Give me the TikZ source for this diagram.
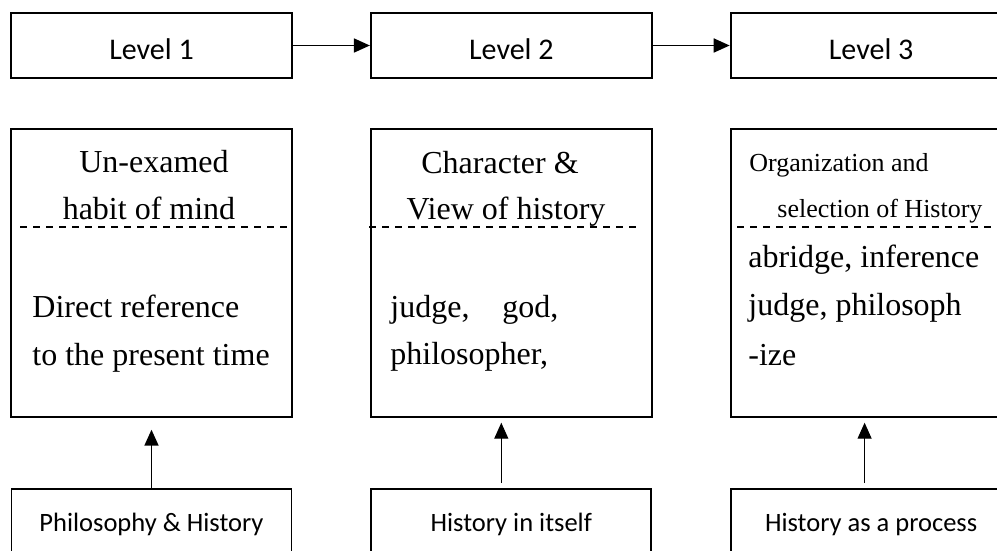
\documentclass[tikz,border=0pt]{standalone}
\usepackage{fontspec}
\setmainfont{Liberation Serif}
\newfontfamily\labelfont{Carlito}
\usetikzlibrary{positioning,arrows.meta}

\begin{document}
\begin{tikzpicture}[
    x=0.5pt, y=-0.5pt,
    >={Triangle[length=8pt,width=7pt]},
    node distance=38.5pt,
    level/.style={draw, line width=0.9pt, minimum width=140.5pt, minimum height=32.5pt, text height=14.2pt, font=\labelfont\fontsize{15}{18}\selectfont},
    panel/.style={draw, line width=0.9pt, minimum width=140.5pt, minimum height=144pt},
    source/.style={draw, line width=0.9pt, minimum width=140pt, minimum height=36pt, font=\labelfont\fontsize{13.25}{16}\selectfont},
    divider/.style={dash pattern=on 3.5pt off 3pt, line width=0.6pt},
    head/.style={anchor=base, inner sep=0pt, font=\fontsize{16}{24}\selectfont},
    body/.style={anchor=base west, inner sep=0pt, font=\fontsize{16}{24}\selectfont},
    note/.style={anchor=base west, inner sep=0pt, font=\fontsize{13}{20}\selectfont}
]
\useasboundingbox (0,0) rectangle (997,551);
\clip (0,0) rectangle (997,551);

\node[level] (l1) at (151.5,45.5) {Level 1};
\node[level, right=of l1] (l2) {Level 2};
\node[level, right=of l2] (l3) {Level 3};

\node[panel, below=24.5pt of l1] (p1) {};
\node[panel, below=24.5pt of l2] (p2) {};
\node[panel, below=24.5pt of l3] (p3) {};

\node[source, below=35pt of p1] (s1) {Philosophy \& History};
\node[source, below=35pt of p2] (s2) {History in itself};
\node[source, below=35pt of p3] (s3) {History as a process};

% dashed rules under the headings
\draw[divider] (20,227) -- (292,227);
\draw[divider] (369,227) -- (642,227);
\draw[divider] (737,227) -- (997,227);

\node[head] (h1a) at (154,173) {Un-examed};
\node[head] (h1b) at (149,220) {habit of mind};
\node[body] (b1a) at (32,317) {Direct reference};
\node[body] (b1b) at (32,365) {to the present time};

\node[head] (h2a) at (500,174) {Character \&};
\node[head] (h2b) at (506,220) {View of history};
\node[body] (b2a) at (390,317) {judge,\hspace*{16.5pt}god,};
\node[body] (b2b) at (390,364) {philosopher,};

\node[note] (h3a) at (749,172) {Organization and};
\node[note] (h3b) at (777,218) {selection of History};
\node[body] (b3a) at (748,268) {abridge, inference};
\node[body] (b3b) at (748,315) {judge, philosoph};
\node[body] (b3c) at (748,365) {-ize};

\path[->, line width=0.9pt]
(l1) edge (l2)
(l2) edge (l3)
(s1.north) edge[shorten >=6pt] (s1.north |- p1.south);

\path[->, line width=0.6pt]
([xshift=-5pt]s2.north) edge[shorten <=2.25pt, shorten >=2.5pt] ([xshift=-5pt]p2.south)
([xshift=-3.25pt]s3.north) edge[shorten <=2.25pt, shorten >=2.5pt] ([xshift=-3.25pt]p3.south);
\end{tikzpicture}
\end{document}
